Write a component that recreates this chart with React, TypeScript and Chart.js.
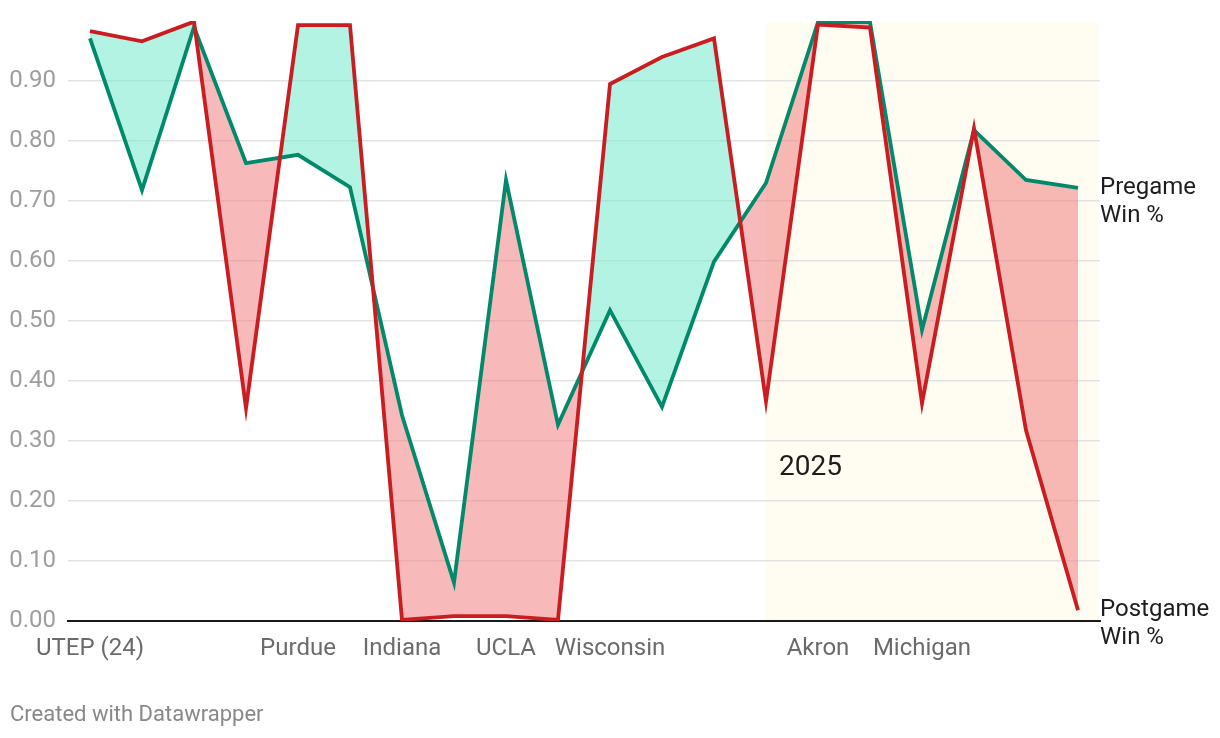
import { useEffect, useRef } from 'react';
import { Chart, registerables } from 'chart.js';

Chart.register(...registerables);

const categories = [
  'UTEP (24)', 'Colorado', 'Northern Iowa', 'Illinois', 'Purdue', 'Rutgers', 'Indiana',
  'Ohio State', 'UCLA', 'USC', 'Wisconsin', 'Iowa', 'Boston College', 'Cincinnati',
  'Akron', 'Houston Christian', 'Michigan', 'Michigan State', 'Maryland', 'Minnesota',
];
const shownLabelIndex = [0, 4, 6, 8, 10, 14, 16];

const pregame = [
  0.971, 0.718, 0.99, 0.763, 0.777, 0.723, 0.343, 0.064, 0.735, 0.327,
  0.518, 0.357, 0.599, 0.73, 0.998, 0.998, 0.485, 0.818, 0.735, 0.722,
];
const postgame = [
  0.983, 0.966, 0.999, 0.355, 0.993, 0.993, 0.002, 0.008, 0.008, 0.002,
  0.895, 0.94, 0.971, 0.366, 0.994, 0.989, 0.363, 0.821, 0.318, 0.018,
];
const yTicks = [0, 0.1, 0.2, 0.3, 0.4, 0.5, 0.6, 0.7, 0.8, 0.9];
const highlightStart = 13;
const highlightLabel = '2025';

const RED = '#c91d21';
const GREEN = '#00896b';
const RED_FILL = 'rgba(240,128,128,0.55)';
const GREEN_FILL = 'rgba(117,233,204,0.55)';
const FONT = 'Roboto';

export default function App() {
  const ref = useRef<HTMLCanvasElement>(null);

  useEffect(() => {
    document.body.style.margin = '0';
    const canvas = ref.current!;

    const bgPlugin = {
      id: 'bg',
      beforeDraw(chart: any) {
        const { ctx, chartArea, scales } = chart;
        const x0 = scales.x.getPixelForValue(highlightStart);
        ctx.save();
        ctx.fillStyle = '#fffcf2';
        ctx.fillRect(x0, chartArea.top + 1, chartArea.right - 2 - x0, chartArea.bottom - chartArea.top - 1);
        ctx.restore();
      },
    };

    const labelPlugin = {
      id: 'labels',
      afterDatasetsDraw(chart: any) {
        const { ctx, scales, chartArea } = chart;
        ctx.save();
        ctx.textBaseline = 'middle';
        ctx.textAlign = 'left';
        ctx.fillStyle = '#1d1d1d';
        ctx.font = `28px ${FONT}`;
        ctx.fillText(highlightLabel, scales.x.getPixelForValue(highlightStart) + 13, scales.y.getPixelForValue(0.255));
        ctx.font = `24px ${FONT}`;
        const lastI = pregame.length - 1;
        const xr = chartArea.right;
        const yPre = scales.y.getPixelForValue(pregame[lastI]);
        ctx.fillText('Pregame', xr, yPre);
        ctx.fillText('Win %', xr, yPre + 28);
        const yPost = scales.y.getPixelForValue(postgame[lastI]);
        ctx.fillText('Postgame', xr, yPost);
        ctx.fillText('Win %', xr, yPost + 28);
        ctx.fillStyle = '#888888';
        ctx.font = `22px ${FONT}`;
        ctx.fillText('Created with Datawrapper', 10, 715);
        ctx.restore();
      },
    };

    const chart = new Chart(canvas, {
      type: 'line',
      data: {
        datasets: [
          {
            label: 'Postgame Win %',
            data: postgame.map((v, i) => ({ x: i, y: v })),
            borderColor: RED,
            borderWidth: 3.8,
            pointRadius: 0,
            tension: 0,
            fill: { target: 1, above: GREEN_FILL, below: RED_FILL },
          },
          {
            label: 'Pregame Win %',
            data: pregame.map((v, i) => ({ x: i, y: v })),
            borderColor: GREEN,
            borderWidth: 3.8,
            pointRadius: 0,
            tension: 0,
            fill: false,
          },
        ],
      },
      options: {
        responsive: false,
        animation: false,
        devicePixelRatio: 1,
        layout: { padding: { top: 21, right: 120, left: 0, bottom: 0 } },
        plugins: {
          legend: { display: false },
          tooltip: { enabled: false },
          filler: { drawTime: 'beforeDatasetsDraw' },
        } as any,
        scales: {
          x: {
            type: 'linear',
            min: -22 / 52,
            max: 19 + 22 / 52,
            grid: { display: false, drawTicks: false },
            border: { display: true, color: '#1a1a1a', width: 2 },
            afterBuildTicks: (s: any) => {
              s.ticks = shownLabelIndex.map((v) => ({ value: v }));
            },
            afterFit: (s: any) => {
              s.height = 117;
              s.paddingLeft = 0;
              s.paddingRight = 0;
            },
            ticks: {
              autoSkip: false,
              maxRotation: 0,
              padding: 14,
              color: '#6b6b6b',
              font: { family: FONT, size: 24 },
              callback: (v: any) => categories[v as number],
            },
          },
          y: {
            min: 0,
            max: 1,
            afterBuildTicks: (s: any) => {
              s.ticks = yTicks.map((v) => ({ value: v }));
            },
            afterFit: (s: any) => {
              s.width = 68;
              s.paddingTop = 0;
              s.paddingBottom = 0;
            },
            grid: { color: '#e3e3e3', lineWidth: 1.5, drawTicks: false },
            border: { display: false },
            ticks: {
              padding: 12,
              color: '#9e9e9e',
              font: { family: FONT, size: 24 },
              callback: (v: any) => Number(v).toFixed(2),
            },
          },
        },
      },
      plugins: [bgPlugin, labelPlugin],
    });

    return () => chart.destroy();
  }, []);

  return <canvas ref={ref} width={1220} height={738} style={{ display: 'block' }} />;
}
